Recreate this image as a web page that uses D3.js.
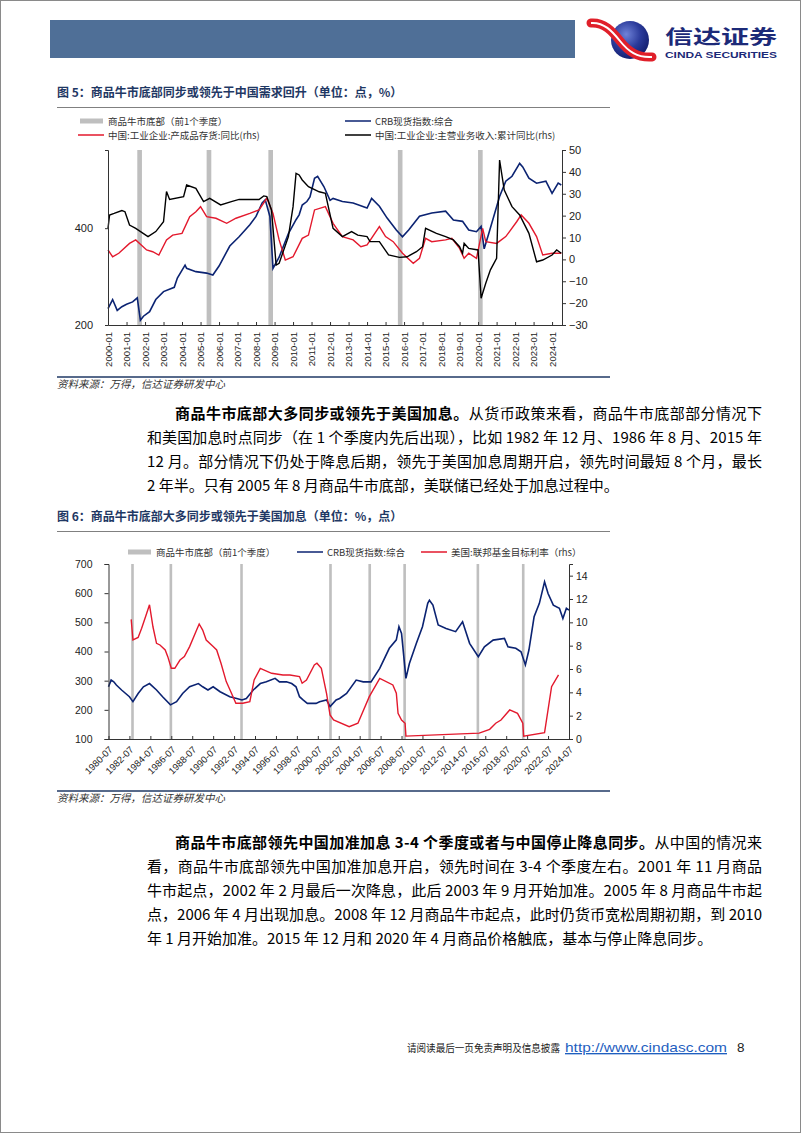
<!DOCTYPE html>
<html><head><meta charset="utf-8">
<script src="https://cdn.jsdelivr.net/npm/d3@7"></script>
<style>body{margin:0;background:#fff}svg{display:block}</style>
</head><body>
<svg id="page" width="802" height="1133"></svg>
<script>
// ---------------- DATA ----------------
// Chart 1 (图5)
const bottoms1 = ["2001-11","2005-08","2008-12","2015-12","2020-04"];
const crb1 = [["2000-01",225],["2000-04",240],["2000-07",222],["2000-10",228],["2001-01",232],["2001-05",236],["2001-08",243],["2001-10",207],["2001-12",213],["2002-04",220],["2002-08",240],["2003-01",254],["2003-08",262],["2003-10",280],["2004-03",307],["2004-04",300],["2004-10",293],["2005-05",290],["2005-09",286],["2006-01",305],["2006-08",352],["2007-02",376],["2007-09",410],["2008-01",435],["2008-05",479],["2008-07",490],["2008-10",435],["2008-12",300],["2009-04",325],["2009-10",385],["2010-03",425],["2010-05",440],["2010-07",472],["2010-10",484],["2010-12",500],["2011-03",572],["2011-05",580],["2011-09",539],["2012-01",488],["2012-03",495],["2012-09",484],["2013-04",479],["2014-01",462],["2014-04",495],["2014-09",468],["2015-02",430],["2015-08",395],["2015-12",376],["2016-04",395],["2016-11",436],["2017-07",446],["2018-04",452],["2018-09",424],["2019-03",420],["2019-07",395],["2019-12",390],["2020-03",405],["2020-05",345],["2020-08",386],["2021-03",502],["2021-07",560],["2021-11",580],["2022-04",636],["2022-06",620],["2022-10",572],["2023-03",552],["2023-09",560],["2024-01",513],["2024-05",552],["2024-07",545]];
const inv1 = [["2000-01",4.3],["2000-04",1.2],["2000-08",2.8],["2001-03",7.3],["2001-07",8.9],["2002-02",4.3],["2002-06",3.5],["2002-10",2.0],["2003-03",8.9],["2003-07",11.1],["2004-01",11.9],["2004-06",19.5],["2004-10",21.8],["2005-01",24.1],["2005-05",19.5],["2005-11",18.8],["2006-06",16.5],["2006-12",18.8],["2007-09",21.0],["2008-03",22.6],["2008-08",27.9],["2008-12",21.0],["2009-04",8.9],["2009-08",-0.3],["2010-01",1.2],["2010-07",9.6],["2010-11",11.1],["2011-03",22.6],["2011-10",24.1],["2012-03",16.5],["2012-09",10.4],["2013-04",8.9],["2013-09",5.8],["2014-01",6.6],["2014-09",15.0],["2015-01",10.4],["2015-06",8.1],["2015-12",2.8],["2016-07",-1.8],["2016-11",0.5],["2017-03",9.6],["2017-07",8.1],["2018-04",8.9],["2018-08",9.6],["2019-01",5.0],["2019-04",0.5],["2019-07",2.8],["2019-12",0.5],["2020-04",14.2],["2020-06",8.1],["2021-01",7.3],["2021-07",10.4],["2022-02",17.2],["2022-05",20.3],["2022-10",16.5],["2023-03",10.4],["2023-07",2.0],["2024-01",2.8],["2024-07",2.8]];
const rev1 = [["2000-01",14.2],["2000-02",20.3],["2000-05",21.0],["2000-10",22.3],["2000-12",21.8],["2001-03",15.7],["2001-07",14.2],["2002-03",10.4],["2002-08",12.7],["2003-01",17.2],["2003-03",31.0],["2003-05",27.4],["2004-02",28.7],["2004-04",34.0],["2004-10",32.5],["2005-03",26.4],["2005-07",27.9],["2006-02",24.9],["2006-09",26.4],["2007-02",27.4],["2008-03",27.4],["2008-06",29.0],["2008-08",28.7],["2008-11",22.6],["2009-02",-2.6],["2009-04",-1.8],["2009-10",10.4],["2010-01",24.1],["2010-03",39.3],["2010-05",38.6],["2010-07",36.3],["2010-11",33.2],["2011-06",30.9],["2011-10",30.2],["2012-03",14.2],["2012-09",10.4],["2013-03",12.7],["2013-07",11.1],["2014-01",10.4],["2014-03",8.1],["2014-09",8.1],["2015-03",2.0],["2015-10",0.9],["2016-03",1.2],["2016-09",3.5],["2017-01",5.8],["2017-03",14.2],["2017-10",11.9],["2018-04",10.4],["2018-09",8.9],["2019-01",5.8],["2019-03",2.8],["2019-04",7.3],["2019-07",5.0],["2020-01",4.3],["2020-03",-17.8],["2020-06",-10.9],["2020-09",-4.8],["2021-01",0.5],["2021-03",45.4],["2021-06",31.7],["2021-11",24.1],["2022-04",20.3],["2022-10",11.9],["2023-03",-1.1],["2023-07",-0.3],["2024-01",2.0],["2024-04",4.3],["2024-07",2.8]];
const leftTicks1 = [200,400];
const rightTicks1 = [-30,-20,-10,0,10,20,30,40,50];
const xYears1 = d3.range(2000,2025);

// Chart 2 (图6)
const bottoms2 = ["1982-12","1986-08","1993-05","2001-11","2005-08","2008-12","2015-12","2020-04"];
const crb2 = [["1980-07",279],["1980-10",302],["1981-01",296],["1981-04",285],["1981-10",268],["1982-07",245],["1982-11",228],["1983-05",256],["1983-11",279],["1984-06",290],["1985-02",268],["1985-09",245],["1986-06",217],["1987-01",228],["1987-08",256],["1988-04",279],["1989-02",290],["1989-07",279],["1990-01",268],["1990-07",279],["1991-03",262],["1992-02",245],["1992-10",239],["1993-04",234],["1993-09",239],["1994-05",268],["1995-01",290],["1995-08",296],["1996-06",308],["1996-11",296],["1997-07",296],["1998-01",290],["1998-06",279],["1998-10",245],["1999-02",234],["1999-07",222],["2000-05",222],["2000-09",228],["2001-05",234],["2001-09",211],["2002-04",234],["2002-08",239],["2003-04",256],["2004-03",302],["2004-11",296],["2005-08",296],["2006-06",342],["2007-05",411],["2008-01",440],["2008-04",485],["2008-07",462],["2008-12",308],["2009-04",359],["2009-12",428],["2010-07",485],["2011-01",565],["2011-03",576],["2011-07",559],["2012-01",491],["2012-10",479],["2013-09",468],["2014-05",502],["2015-01",428],["2015-11",382],["2016-06",416],["2017-04",439],["2018-05",445],["2018-09",416],["2019-06",411],["2019-12",399],["2020-05",354],["2020-09",405],["2021-03",519],["2021-09",565],["2022-03",639],["2022-07",599],["2023-01",559],["2023-08",548],["2023-12",513],["2024-04",548],["2024-07",542]];
const ffr2 = [["1982-09",10.25],["1982-11",8.5],["1983-05",8.7],["1983-09",9.5],["1984-02",10.6],["1984-06",11.5],["1984-10",9.6],["1985-02",8.2],["1985-06",8.06],["1985-12",7.63],["1986-03",7.06],["1986-07",6.06],["1986-11",6.06],["1987-05",6.77],["1987-10",7.06],["1988-04",7.92],["1988-12",9.34],["1989-03",9.86],["1989-07",9.34],["1989-11",8.48],["1990-07",7.92],["1990-11",7.63],["1991-04",6.49],["1991-10",4.92],["1992-04",3.92],["1992-09",3.06],["1993-05",3.06],["1994-01",3.2],["1994-06",5.06],["1995-01",6.06],["1996-02",5.63],["1997-03",5.49],["1997-11",5.49],["1998-10",5.35],["1999-01",4.78],["1999-06",5.06],["2000-03",6.34],["2000-06",6.49],["2000-11",6.06],["2001-05",3.92],["2001-09",2.06],["2002-01",1.63],["2003-07",1.06],["2004-05",1.35],["2005-06",3.63],["2006-06",5.2],["2007-09",4.63],["2008-01",3.92],["2008-03",2.2],["2008-07",1.63],["2008-11",1.35],["2008-12",0.25],["2015-12",0.5],["2016-12",0.83],["2017-07",1.35],["2018-01",1.63],["2018-11",2.49],["2019-08",2.2],["2020-02",1.35],["2020-03",0.25],["2022-03",0.55],["2022-11",4.49],["2023-07",5.49]];
const leftTicks2 = [100,200,300,400,500,600,700];
const rightTicks2 = [0,2,4,6,8,10,12,14];
const xYears2 = d3.range(1980,2025,2);

// Texts
const title1 = "图 5：商品牛市底部同步或领先于中国需求回升（单位：点，%）";
const title2 = "图 6：商品牛市底部大多同步或领先于美国加息（单位：%，点）";
const legend1 = ["商品牛市底部（前1个季度）","CRB现货指数:综合","中国:工业企业:产成品存货:同比(rhs)","中国:工业企业:主营业务收入:累计同比(rhs)"];
const legend2 = ["商品牛市底部（前1个季度）","CRB现货指数:综合","美国:联邦基金目标利率（rhs）"];
const sourceText = "资料来源：万得，信达证券研发中心";
const para1 = [
  {b:"商品牛市底部大多同步或领先于美国加息。", t:"从货币政策来看，商品牛市底部部分情况下", first:true, full:true},
  {b:"", t:"和美国加息时点同步（在 1 个季度内先后出现），比如 1982 年 12 月、1986 年 8 月、2015 年", full:true},
  {b:"", t:"12 月。部分情况下仍处于降息后期，领先于美国加息周期开启，领先时间最短 8 个月，最长", full:true},
  {b:"", t:"2 年半。只有 2005 年 8 月商品牛市底部，美联储已经处于加息过程中。", full:false}
];
const para2 = [
  {b:"商品牛市底部领先中国加准加息 3-4 个季度或者与中国停止降息同步。", t:"从中国的情况来", first:true, full:true},
  {b:"", t:"看，商品牛市底部领先中国加准加息开启，领先时间在 3-4 个季度左右。2001 年 11 月商品", full:true},
  {b:"", t:"牛市起点，2002 年 2 月最后一次降息，此后 2003 年 9 月开始加准。2005 年 8 月商品牛市起", full:true},
  {b:"", t:"点，2006 年 4 月出现加息。2008 年 12 月商品牛市起点，此时仍货币宽松周期初期，到 2010", full:true},
  {b:"", t:"年 1 月开始加准。2015 年 12 月和 2020 年 4 月商品价格触底，基本与停止降息同步。", full:false}
];
const footerText = "请阅读最后一页免责声明及信息披露";
const footerUrl = "http://www.cindasc.com";
const pageNo = "8";

// ---------------- DRAW ----------------
const CJK = '"Noto Sans CJK SC","Noto Sans",sans-serif';
const ARIAL = '"Liberation Sans",Arial,sans-serif';
const C_BLUE = "#0b2372", C_RED = "#e3192d", C_GRAY = "#bfbfbf", C_AX = "#333";
const parse = d3.timeParse("%Y-%m");
const svg = d3.select("#page");

// page border
svg.append("rect").attr("x",0.5).attr("y",0.5).attr("width",800).attr("height",1132)
  .attr("fill","none").attr("stroke","#8a8a8a");

// header
svg.append("rect").attr("x",50).attr("y",20).attr("width",525).attr("height",38).attr("fill","#4f6f97");
const defs = svg.append("defs");
const rg = defs.append("radialGradient").attr("id","lg").attr("cx","40%").attr("cy","35%").attr("r","70%");
rg.append("stop").attr("offset","0%").attr("stop-color","#6f82d8");
rg.append("stop").attr("offset","55%").attr("stop-color","#2a3a9a");
rg.append("stop").attr("offset","100%").attr("stop-color","#101c6a");
svg.append("circle").attr("cx",630).attr("cy",40).attr("r",19).attr("fill","url(#lg)");
const sw = "M591,23 C604,22 612,31 620,41 C628,51 637,58 652,57";
svg.append("path").attr("d",sw).attr("fill","none").attr("stroke","#e0202a").attr("stroke-width",9).attr("stroke-linecap","round");
svg.append("path").attr("d",sw).attr("fill","none").attr("stroke","#fff").attr("stroke-width",2);
svg.append("text").attr("x",665).attr("y",44).attr("font-family",CJK).attr("font-weight","bold")
  .attr("font-size",19).attr("fill","#1c2a78").attr("textLength",112).attr("lengthAdjust","spacingAndGlyphs").text("信达证券");
svg.append("text").attr("x",665).attr("y",57.5).attr("font-family",ARIAL).attr("font-weight","bold")
  .attr("font-size",8.5).attr("fill","#1c2a78").attr("textLength",112).attr("lengthAdjust","spacingAndGlyphs").text("CINDA SECURITIES");

function titleBlock(y, txt){
  svg.append("text").attr("x",57).attr("y",y).attr("font-family",CJK).attr("font-weight","bold")
    .attr("font-size",12).attr("fill","#1f3864").style("white-space","pre").text(txt);
  svg.append("line").attr("x1",57).attr("x2",610).attr("y1",y+10.5).attr("y2",y+10.5)
    .attr("stroke","#808080").attr("stroke-width",1);
}
function sourceBlock(y){
  svg.append("line").attr("x1",57).attr("x2",610).attr("y1",y).attr("y2",y)
    .attr("stroke","#1f3864").attr("stroke-width",1.5);
  svg.append("text").attr("x",57).attr("y",y+11).attr("font-family",CJK).attr("font-style","italic")
    .attr("font-size",10.5).attr("fill","#333").text(sourceText);
}
function legendItem(x, y, type, color, label){
  if(type==="bar") svg.append("rect").attr("x",x).attr("y",y-2.5).attr("width",23).attr("height",5).attr("fill",color);
  else svg.append("line").attr("x1",x).attr("x2",x+26).attr("y1",y).attr("y2",y).attr("stroke",color).attr("stroke-width",1.5);
  svg.append("text").attr("x",x+(type==="bar"?28:30)).attr("y",y+3.5).attr("font-family",CJK)
    .attr("font-size",9.5).attr("fill","#333").text(label);
}
function styleAxis(g, fs){
  g.select(".domain").attr("stroke",C_AX);
  g.selectAll(".tick line").attr("stroke",C_AX);
  g.selectAll("text").attr("font-family",ARIAL).attr("font-size",fs).attr("fill","#222");
}
const minus = d => d<0 ? "\u2212"+Math.abs(d) : String(d);

// ---------- Chart 1 ----------
titleBlock(97, title1);
legendItem(80,121,"bar",C_GRAY,legend1[0]);
legendItem(345,121,"line",C_BLUE,legend1[1]);
legendItem(78,135,"line",C_RED,legend1[2]);
legendItem(345,135,"line","#000",legend1[3]);
{
  const top=150, bot=325, L=108, R=562;
  const x = d3.scaleTime().domain([parse("2000-01"), new Date(2024,6,15)]).range([L,R]);
  const yL = d3.scaleLog().domain([200,700]).range([bot,top]);
  const yR = d3.scaleLinear().domain([-30,50]).range([bot,top]);
  const g = svg.append("g");
  g.selectAll("rect.bar").data(bottoms1).join("rect")
    .attr("x",d=>x(d3.timeMonth.offset(parse(d),-3)))
    .attr("width",d=>x(parse(d))-x(d3.timeMonth.offset(parse(d),-3)))
    .attr("y",top).attr("height",bot-top).attr("fill",C_GRAY);
  const lineL = d3.line().x(d=>x(parse(d[0]))).y(d=>yL(d[1]));
  const lineR = d3.line().x(d=>x(parse(d[0]))).y(d=>yR(d[1]));
  g.append("path").attr("d",lineL(crb1)).attr("fill","none").attr("stroke",C_BLUE).attr("stroke-width",1.6);
  g.append("path").attr("d",lineR(inv1)).attr("fill","none").attr("stroke",C_RED).attr("stroke-width",1.4);
  g.append("path").attr("d",lineR(rev1)).attr("fill","none").attr("stroke","#000").attr("stroke-width",1.4);
  const ax = svg.append("g").attr("transform",`translate(${L},0)`)
    .call(d3.axisLeft(yL).tickValues(leftTicks1).tickFormat(d3.format("d")).tickSize(3).tickPadding(12));
  styleAxis(ax,11);
  const ar = svg.append("g").attr("transform",`translate(${R},0)`)
    .call(d3.axisRight(yR).tickValues(rightTicks1).tickFormat(minus).tickSize(4).tickPadding(3));
  styleAxis(ar,11);
  const ab = svg.append("g").attr("transform",`translate(0,${bot})`)
    .call(d3.axisBottom(x).tickValues(xYears1.map(y=>new Date(y,0,1))).tickFormat(d3.timeFormat("%Y-%m")).tickSize(-3).tickSizeOuter(0));
  styleAxis(ab,9.5);
  ab.selectAll("text").attr("transform","rotate(-90)").attr("text-anchor","end")
    .attr("x",-7).attr("y",0).attr("dy","0.35em");
}
sourceBlock(377);

// ---------- Paragraphs ----------
function para(lines, y0){
  lines.forEach((ln,i)=>{
    const x0 = ln.first ? 175 : 147;
    const t = svg.append("text").attr("x",x0).attr("y",y0+i*24).attr("font-family",CJK)
      .attr("font-size",15).attr("fill","#000").style("white-space","pre");
    if(ln.full) t.attr("textLength",762-x0).attr("lengthAdjust","spacing");
    if(ln.b) t.append("tspan").attr("font-weight","bold").text(ln.b);
    t.append("tspan").text(ln.t);
  });
}
para(para1, 418.5);

// ---------- Chart 2 ----------
titleBlock(521, title2);
legendItem(128,552,"bar",C_GRAY,legend2[0]);
legendItem(297,552,"line",C_BLUE,legend2[1]);
legendItem(421,552,"line",C_RED,legend2[2]);
{
  const top=564, bot=739, L=108.5, R=569;
  const x = d3.scaleTime().domain([parse("1980-07"), parse("2024-07")]).range([L,R]);
  const yL = d3.scaleLinear().domain([100,700]).range([bot,top]);
  const yR = d3.scaleLinear().domain([0,15]).range([bot,top]);
  const g = svg.append("g");
  g.selectAll("rect.bar").data(bottoms2).join("rect")
    .attr("x",d=>x(d3.timeMonth.offset(parse(d),-3)))
    .attr("width",d=>x(parse(d))-x(d3.timeMonth.offset(parse(d),-3)))
    .attr("y",top).attr("height",bot-top).attr("fill",C_GRAY);
  const lineL = d3.line().x(d=>x(parse(d[0]))).y(d=>yL(d[1]));
  const lineR = d3.line().x(d=>x(parse(d[0]))).y(d=>yR(d[1]));
  g.append("path").attr("d",lineL(crb2)).attr("fill","none").attr("stroke",C_BLUE).attr("stroke-width",1.6);
  g.append("path").attr("d",lineR(ffr2)).attr("fill","none").attr("stroke",C_RED).attr("stroke-width",1.4);
  const ax = svg.append("g").attr("transform",`translate(${L},0)`)
    .call(d3.axisLeft(yL).tickValues(leftTicks2).tickSize(4).tickPadding(12));
  styleAxis(ax,10.5);
  const ar = svg.append("g").attr("transform",`translate(${R},0)`)
    .call(d3.axisRight(yR).tickValues(rightTicks2).tickSize(4).tickPadding(3));
  styleAxis(ar,10.5);
  const ab = svg.append("g").attr("transform",`translate(0,${bot})`)
    .call(d3.axisBottom(x).tickValues(xYears2.map(y=>new Date(y,6,1))).tickFormat(d3.timeFormat("%Y-%m")).tickSize(-3).tickSizeOuter(0));
  styleAxis(ab,9.5);
  ab.selectAll("text").attr("transform","translate(2,9) rotate(-45)").attr("text-anchor","end")
    .attr("x",0).attr("y",0).attr("dy","0.35em");
}
sourceBlock(791);

para(para2, 847.5);

// ---------- Footer ----------
svg.append("text").attr("x",407).attr("y",1052).attr("font-family",CJK).attr("font-size",10.5)
  .attr("fill","#222").attr("textLength",153).attr("lengthAdjust","spacingAndGlyphs").text(footerText);
svg.append("text").attr("x",565).attr("y",1052).attr("font-family",ARIAL).attr("font-size",13.5)
  .attr("fill","#1f5fbf").attr("text-decoration","underline").attr("textLength",162).attr("lengthAdjust","spacingAndGlyphs").text(footerUrl);
svg.append("text").attr("x",737).attr("y",1052).attr("font-family",ARIAL).attr("font-size",13.5)
  .attr("fill","#222").text(pageNo);
</script>
</body></html>
